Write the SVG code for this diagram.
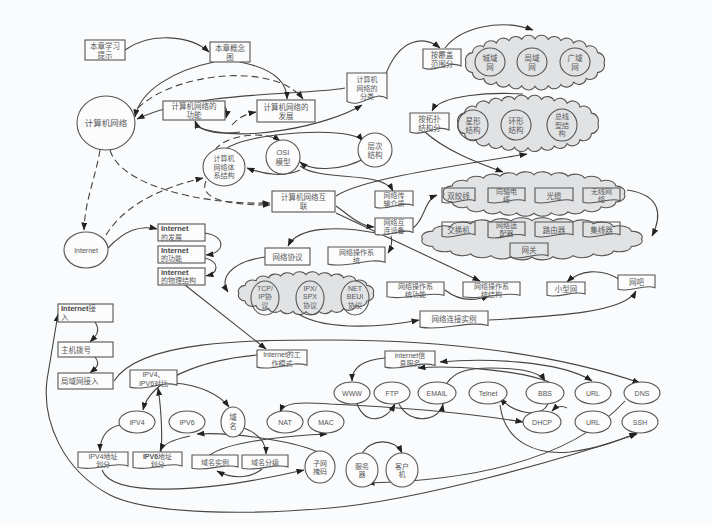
<svg xmlns="http://www.w3.org/2000/svg" width="712" height="527" viewBox="0 0 712 527">
<style>
.n{fill:none;stroke:#555;stroke-width:1.1}
.nf{fill:#fcfcfd;stroke:#555;stroke-width:1.1}
.cl{fill:#e1e2e4;stroke:#555;stroke-width:1.1}
.t{font-family:"Liberation Sans","Noto Sans CJK SC",sans-serif;font-size:7.5px;fill:#5a5a5a;text-anchor:middle}
.s{font-family:"Liberation Sans","Noto Sans CJK SC",sans-serif;font-size:7px;fill:#555;text-anchor:middle}
.b{font-family:"Liberation Sans",sans-serif;font-size:7.5px;font-weight:bold;fill:#444}
.l{text-anchor:start}
.c{fill:none;stroke:#444;stroke-width:1.1;marker-end:url(#a)}
.d{fill:none;stroke:#444;stroke-width:1.1;stroke-dasharray:7 4;marker-end:url(#a)}
.bs{marker-start:url(#as)}
</style>
<defs>
<marker id="a" markerUnits="userSpaceOnUse" markerWidth="8" markerHeight="6" refX="7.5" refY="3" orient="auto"><path d="M0,0 L8,3 L0,6 z" fill="#222"/></marker>
<marker id="as" markerUnits="userSpaceOnUse" markerWidth="8" markerHeight="6" refX="7.5" refY="3" orient="auto-start-reverse"><path d="M0,0 L8,3 L0,6 z" fill="#222"/></marker>
<path id="doc" vector-effect="non-scaling-stroke" d="M0,0 H100 V17 C70,11 35,24 0,19 Z"/>
<path id="cloud" vector-effect="non-scaling-stroke" d="M192,40 A10,10 0 0 1 183.4,53.5 A10,10 0 0 1 168.4,61.4 A10,10 0 0 1 151.4,66.5 A10,10 0 0 1 134.5,69.7 A10,10 0 0 1 117.6,71.4 A10,10 0 0 1 100,72 A10,10 0 0 1 82.4,71.4 A10,10 0 0 1 65.5,69.7 A10,10 0 0 1 48.6,66.5 A10,10 0 0 1 31.6,61.4 A10,10 0 0 1 16.6,53.5 A10,10 0 0 1 8,40 A10,10 0 0 1 16.6,26.5 A10,10 0 0 1 31.6,18.6 A10,10 0 0 1 48.6,13.5 A10,10 0 0 1 65.5,10.3 A10,10 0 0 1 82.4,8.6 A10,10 0 0 1 100,8 A10,10 0 0 1 117.6,8.6 A10,10 0 0 1 134.5,10.3 A10,10 0 0 1 151.4,13.5 A10,10 0 0 1 168.4,18.6 A10,10 0 0 1 183.4,26.5 A10,10 0 0 1 192,40 Z"/>
</defs>
<rect width="712" height="527" fill="#fafbfc"/>

<g id="clouds">
<use href="#cloud" class="cl" transform="translate(460,33) scale(0.75,0.74)"/>
<use href="#cloud" class="cl" transform="translate(452,93) scale(0.76,0.76)"/>
<use href="#cloud" class="cl" transform="translate(436,170) scale(0.98,0.6)"/>
<use href="#cloud" class="cl" transform="translate(413,216) scale(1.19,0.57)"/>
<use href="#cloud" class="cl" transform="translate(233,270) scale(0.73,0.58)"/>
</g>

<g id="connectors">
<path class="c" d="M125,50 C150,32 190,35 209,52"/>
<path class="c" d="M214,62 C175,70 140,90 135,117"/>
<path class="c" d="M345,88 C300,96 200,90 137,119"/>
<path class="c" d="M240,62 C270,68 287,80 287,99"/>
<path class="d" d="M138,108 C175,72 275,62 303,99"/>
<path class="d" d="M232,125 C238,118 245,114 256,112"/>
<path class="c" d="M222,103 C226,106 228,110 226,118"/>
<path class="c" d="M240,132 C225,134 200,134 195,121"/>
<path class="c" d="M195,126 C240,145 330,125 362,105"/>
<path class="d" d="M215,150 C225,135 265,130 280,141"/>
<path class="c" d="M226,149 C245,133 350,125 363,141"/>
<path class="c" d="M365,158 C345,170 312,172 300,162"/>
<path class="c" d="M300,166 C320,182 382,170 393,191"/>
<path class="c" d="M300,170 C285,177 265,175 247,168"/>
<path class="c" d="M336,196 C360,180 440,168 527,154"/>
<path class="c" d="M385,76 C400,36 425,36 440,48"/>
<path class="c" d="M445,48 C460,28 500,18 533,30"/>
<path class="c" d="M523,94 C490,92 440,95 432,111"/>
<path class="c" d="M425,132 C445,150 475,162 503,172"/>
<path class="c" d="M336,206 C350,216 360,226 374,227"/>
<path class="c" d="M413,228 C425,220 424,200 437,195"/>
<path class="c" d="M627,190 C662,195 662,216 652,236"/>
<path class="c" d="M336,213 L480,281"/>
<path class="c" d="M391,236 C393,243 391,248 388,253"/>
<path class="c" d="M376,233 C340,226 298,226 288,246"/>
<path class="c" d="M265,257 C228,262 220,280 228,292"/>
<path class="d" d="M100,150 C95,180 85,200 84,230"/>
<path class="d" d="M110,150 C120,185 200,205 270,203"/>
<path class="d" d="M106,235 C120,212 150,190 203,178"/>
<path class="d" d="M206,181 C200,195 215,205 270,205"/>
<path class="c" d="M108,248 C125,230 140,225 157,229"/>
<path class="c" d="M205,233 C226,236 226,253 206,255"/>
<path class="c" d="M205,258 C220,262 219,273 206,276"/>
<path class="c" d="M185,285 L266,349"/>
<path class="c" d="M300,315 C330,332 390,326 419,320"/>
<path class="c" d="M445,290 C460,302 475,301 489,296"/>
<path class="c" d="M489,320 C560,316 625,312 636,291"/>
<path class="c" d="M619,279 C600,268 580,270 567,282"/>
<path class="c" d="M95,322 C101,331 96,336 90,342"/>
<path class="c" d="M95,357 C101,365 96,368 90,373"/>
<path class="c" d="M114,381 C140,340 250,340 330,340 C450,340 560,355 640,383"/>
<path class="c" d="M257,355 C200,360 150,380 143,410"/>
<path class="c" d="M174,383 C200,385 220,395 229,407"/>
<path class="c" d="M161,452 C163,430 160,400 158,388"/>
<path class="c" d="M190,436 C172,440 163,444 160,451"/>
<path class="c" d="M120,425 C105,428 100,440 100,451"/>
<path class="c" d="M102,470 C112,497 200,494 304,470"/>
<path class="c" d="M318,452 C290,440 230,432 197,434"/>
<path class="c" d="M244,428 C262,435 266,445 266,454"/>
<path class="c" d="M262,469 C250,479 232,479 217,471"/>
<path class="c" d="M210,455 C230,440 300,435 327,434"/>
<path class="c bs" d="M280,412 C284,402 300,402 330,404 C420,408 480,415 523,422"/>
<path class="c" d="M385,358 C360,360 352,370 352,381"/>
<path class="c" d="M357,404 C366,426 386,421 395,404"/>
<path class="c" d="M399,404 C410,426 440,421 443,404"/>
<path class="c" d="M447,383 C455,371 470,368 490,368 C520,368 540,372 545,381"/>
<path class="c bs" d="M592,381 C560,360 480,358 440,362"/>
<path class="c" d="M549,382 C520,370 450,365 418,368"/>
<path class="c" d="M548,404 C540,420 512,412 500,398"/>
<path class="c" d="M567,408 C561,405 556,407 552,411"/>
<path class="c" d="M625,401 C580,450 500,480 367,483"/>
<path class="c" d="M500,405 C505,445 540,455 570,452 C600,448 620,440 637,433"/>
<path class="c bs" d="M637,434 C560,460 420,500 330,508 C250,515 150,515 110,495 C62,470 42,420 47,380 L58,314"/>
<path class="c" d="M362,454 C370,438 395,438 402,453"/>
</g>

<g id="n_tishi"><rect class="nf" x="85" y="40" width="40" height="20"/><text class="t" x="105" y="48.5">本章学习</text><text class="t" x="105" y="57.5">提示</text></g>
<g id="n_gainian"><rect class="nf" x="210" y="42" width="40" height="20"/><text class="t" x="230" y="50.5">本章概念</text><text class="t" x="230" y="59.5">图</text></g>
<g id="n_jsjwl"><ellipse class="nf" cx="106" cy="123" rx="29" ry="27"/><text class="t" x="106" y="126" style="font-size:8.5px">计算机网络</text></g>
<g id="n_gongneng"><rect class="nf" x="163" y="101" width="62" height="19"/><text class="t" x="194" y="109">计算机网络的</text><text class="t" x="194" y="118">功能</text></g>
<g id="n_fazhan"><rect class="nf" x="257" y="100" width="58" height="22"/><text class="t" x="286" y="109.5">计算机网络的</text><text class="t" x="286" y="118.5">发展</text></g>
<g id="n_fenlei"><use href="#doc" class="nf" transform="translate(347,73) scale(0.4,1.5)"/><text class="t" x="367" y="82" style="font-size:7px">计算机</text><text class="t" x="367" y="90.5" style="font-size:7px">网络的</text><text class="t" x="367" y="99" style="font-size:7px">分类</text></g>
<g id="n_fugai"><use href="#doc" class="nf" transform="translate(423,49) scale(0.38,1)"/><text class="t" x="442" y="57.5">按覆盖</text><text class="t" x="442" y="66.5">范围分</text></g>
<g id="n_chengyu"><ellipse class="n" cx="490" cy="62" rx="15" ry="14"/><text class="t" x="490" y="60.5">城域</text><text class="t" x="490" y="69.5">网</text></g>
<g id="n_juyu"><ellipse class="n" cx="532" cy="62" rx="15" ry="14"/><text class="t" x="532" y="60.5">局域</text><text class="t" x="532" y="69.5">网</text></g>
<g id="n_guangyu"><ellipse class="n" cx="575" cy="62" rx="15" ry="14"/><text class="t" x="575" y="60.5">广域</text><text class="t" x="575" y="69.5">网</text></g>
<g id="n_tuopu"><use href="#doc" class="nf" transform="translate(410,113) scale(0.39,1)"/><text class="t" x="429.5" y="121.5">按拓扑</text><text class="t" x="429.5" y="130.5">结构分</text></g>
<g id="n_xing"><ellipse class="n" cx="473" cy="125" rx="15" ry="15"/><text class="t" x="473" y="123.5">星形</text><text class="t" x="473" y="132.5">结构</text></g>
<g id="n_huan"><ellipse class="n" cx="516" cy="125" rx="15" ry="15"/><text class="t" x="516" y="123.5">环形</text><text class="t" x="516" y="132.5">结构</text></g>
<g id="n_zongxian"><ellipse class="n" cx="562" cy="125" rx="15" ry="16"/><text class="t" x="562" y="119" style="font-size:7px">总线</text><text class="t" x="562" y="127.5" style="font-size:7px">型结</text><text class="t" x="562" y="136" style="font-size:7px">构</text></g>
<g id="n_tixi"><ellipse class="nf" cx="224" cy="167" rx="21" ry="19"/><text class="t" x="224" y="161" style="font-size:7px">计算机</text><text class="t" x="224" y="169.5" style="font-size:7px">网络体</text><text class="t" x="224" y="178" style="font-size:7px">系结构</text></g>
<g id="n_osi"><ellipse class="nf" cx="283" cy="157" rx="17" ry="17"/><text class="s" x="283" y="155" style="font-size:7.5px">OSI</text><text class="t" x="283" y="164.5">模型</text></g>
<g id="n_cengci"><ellipse class="nf" cx="375" cy="150" rx="17" ry="17"/><text class="t" x="375" y="148.5">层次</text><text class="t" x="375" y="157.5">结构</text></g>
<g id="n_hulian"><rect class="nf" x="272" y="191" width="63" height="21"/><text class="t" x="303.5" y="200">计算机网络互</text><text class="t" x="303.5" y="209">联</text></g>
<g id="n_jiezhi"><use href="#doc" class="nf" transform="translate(375,191) scale(0.38,0.85)"/><text class="t" x="394" y="198" style="font-size:7px">网络传</text><text class="t" x="394" y="206" style="font-size:7px">输介质</text></g>
<g id="n_shebei"><use href="#doc" class="nf" transform="translate(375,218) scale(0.38,0.85)"/><text class="t" x="394" y="225" style="font-size:7px">网络互</text><text class="t" x="394" y="233" style="font-size:7px">连设备</text></g>
<g id="n_shuangjiao"><use href="#doc" class="n" transform="translate(442,188) scale(0.33,0.75)"/><text class="t" x="458.5" y="198.5">双绞线</text></g>
<g id="n_tongzhou"><use href="#doc" class="n" transform="translate(488,188) scale(0.37,0.75)"/><text class="t" x="506.5" y="194" style="font-size:7px">同轴电</text><text class="t" x="506.5" y="202" style="font-size:7px">缆</text></g>
<g id="n_guanglan"><use href="#doc" class="n" transform="translate(535,188) scale(0.38,0.75)"/><text class="t" x="554" y="198.5">光缆</text></g>
<g id="n_wuxian"><use href="#doc" class="n" transform="translate(583,188) scale(0.37,0.75)"/><text class="t" x="601.5" y="194" style="font-size:7px">无线网</text><text class="t" x="601.5" y="202" style="font-size:7px">络</text></g>
<g id="n_jiaohuan"><use href="#doc" class="n" transform="translate(442,222) scale(0.33,0.75)"/><text class="t" x="458.5" y="232.5">交换机</text></g>
<g id="n_shipei"><use href="#doc" class="n" transform="translate(488,222) scale(0.37,0.8)"/><text class="t" x="506.5" y="228" style="font-size:7px">网络适</text><text class="t" x="506.5" y="236" style="font-size:7px">配器</text></g>
<g id="n_luyou"><use href="#doc" class="n" transform="translate(535,222) scale(0.38,0.75)"/><text class="t" x="554" y="232.5">路由器</text></g>
<g id="n_jixian"><use href="#doc" class="n" transform="translate(583,222) scale(0.37,0.75)"/><text class="t" x="601.5" y="232.5">集线器</text></g>
<g id="n_wangguan"><use href="#doc" class="n" transform="translate(510,243) scale(0.38,0.75)"/><text class="t" x="529" y="253">网关</text></g>
<g id="n_internet"><ellipse class="nf" cx="86" cy="250" rx="22" ry="18"/><text class="s" x="86" y="253">Internet</text></g>
<g id="n_inet_fz"><rect class="nf" x="158" y="224" width="47" height="17"/><text class="b" x="161" y="231">Internet</text><text class="t l" x="161" y="239.5" style="font-size:7px">的发展</text></g>
<g id="n_inet_gn"><rect class="nf" x="158" y="246" width="47" height="17"/><text class="b" x="161" y="252.5">Internet</text><text class="t l" x="161" y="261" style="font-size:7px">的功能</text></g>
<g id="n_inet_wl"><rect class="nf" x="158" y="268" width="47" height="17"/><text class="b" x="161" y="274.5">internet</text><text class="t l" x="161" y="283" style="font-size:7px">的物理结构</text></g>
<g id="n_xieyi"><rect class="nf" x="265" y="248" width="45" height="17"/><text class="t" x="287.5" y="259.5">网络协议</text></g>
<g id="n_nos"><use href="#doc" class="nf" transform="translate(328,247) scale(0.57,0.9)"/><text class="t" x="356.5" y="254.5" style="font-size:7px">网络操作系</text><text class="t" x="356.5" y="262.5" style="font-size:7px">统</text></g>
<g id="n_tcpip"><ellipse class="n" cx="265" cy="298" rx="14" ry="17"/><text class="s" x="265" y="290.5">TCP/</text><text class="s" x="265" y="299">IP协</text><text class="t" x="265" y="307.5" style="font-size:7px">议</text></g>
<g id="n_ipx"><ellipse class="n" cx="310" cy="298" rx="14" ry="17"/><text class="s" x="310" y="290.5">IPX/</text><text class="s" x="310" y="299">SPX</text><text class="t" x="310" y="307.5" style="font-size:7px">协议</text></g>
<g id="n_netbeui"><ellipse class="n" cx="355" cy="298" rx="14" ry="17"/><text class="s" x="355" y="290.5">NET</text><text class="s" x="355" y="299">BEUI</text><text class="t" x="355" y="307.5" style="font-size:7px">协议</text></g>
<g id="n_nos_gn"><use href="#doc" class="nf" transform="translate(387,282) scale(0.57,0.78)"/><text class="t" x="415.5" y="288.5" style="font-size:7px">网络操作系</text><text class="t" x="415.5" y="296.5" style="font-size:7px">统功能</text></g>
<g id="n_nos_jg"><use href="#doc" class="nf" transform="translate(463,282) scale(0.57,0.78)"/><text class="t" x="491.5" y="288.5" style="font-size:7px">网络操作系</text><text class="t" x="491.5" y="296.5" style="font-size:7px">统结构</text></g>
<g id="n_shili"><use href="#doc" class="nf" transform="translate(420,311) scale(0.68,0.85)"/><text class="t" x="454" y="322">网络连接实例</text></g>
<g id="n_xiaoxing"><use href="#doc" class="nf" transform="translate(547,282) scale(0.38,0.7)"/><text class="t" x="566" y="291.5">小型网</text></g>
<g id="n_wangba"><use href="#doc" class="nf" transform="translate(618,275) scale(0.37,0.75)"/><text class="t" x="636.5" y="285">网吧</text></g>
<g id="n_jieru"><rect class="nf" x="58" y="304" width="55" height="18"/><text class="b" x="61" y="311">Internet<tspan style="font-weight:normal;font-family:'Liberation Sans','Noto Sans CJK SC',sans-serif;fill:#5a5a5a">接</tspan></text><text class="t l" x="61" y="320">入</text></g>
<g id="n_boh"><rect class="nf" x="58" y="342" width="55" height="15"/><text class="t l" x="61" y="352.5">主机拨号</text></g>
<g id="n_lan"><rect class="nf" x="58" y="373" width="55" height="16"/><text class="t l" x="61" y="384">局域网接入</text></g>
<g id="n_duibi"><use href="#doc" class="nf" transform="translate(130,370) scale(0.47,0.9)"/><text class="s" x="153.5" y="377">IPV4、</text><text class="s" x="153.5" y="385.5">IPV6对比</text></g>
<g id="n_moshi"><use href="#doc" class="nf" transform="translate(257,350) scale(0.5,0.9)"/><text class="s" x="282" y="357">Internet的工</text><text class="t" x="282" y="365.5" style="font-size:7px">作模式</text></g>
<g id="n_xinxi"><use href="#doc" class="nf" transform="translate(385,351) scale(0.5,0.85)"/><text class="s" x="410" y="357.5">internet信</text><text class="t" x="410" y="366" style="font-size:7px">息服务</text></g>
<g id="n_www"><ellipse class="nf" cx="352" cy="393" rx="18" ry="11"/><text class="s" x="352" y="395.5">WWW</text></g>
<g id="n_ftp"><ellipse class="nf" cx="392" cy="393" rx="18" ry="11"/><text class="s" x="392" y="395.5">FTP</text></g>
<g id="n_email"><ellipse class="nf" cx="437" cy="393" rx="19" ry="11"/><text class="s" x="437" y="395.5">EMAIL</text></g>
<g id="n_telnet"><ellipse class="nf" cx="488" cy="393" rx="19" ry="11"/><text class="s" x="488" y="395.5">Telnet</text></g>
<g id="n_bbs"><ellipse class="nf" cx="545" cy="393" rx="19" ry="11"/><text class="s" x="545" y="395.5">BBS</text></g>
<g id="n_url1"><ellipse class="nf" cx="593" cy="393" rx="18" ry="11"/><text class="s" x="593" y="395.5">URL</text></g>
<g id="n_dns"><ellipse class="nf" cx="642" cy="393" rx="18" ry="11"/><text class="s" x="642" y="395.5">DNS</text></g>
<g id="n_ipv4"><ellipse class="nf" cx="137" cy="422" rx="18" ry="11"/><text class="s" x="137" y="424.5">IPV4</text></g>
<g id="n_ipv6"><ellipse class="nf" cx="187" cy="422" rx="18" ry="11"/><text class="s" x="187" y="424.5">IPV6</text></g>
<g id="n_yuming"><ellipse class="nf" cx="233" cy="422" rx="12" ry="15"/><text class="t" x="233" y="420">域</text><text class="t" x="233" y="429">名</text></g>
<g id="n_nat"><ellipse class="nf" cx="285" cy="422" rx="18" ry="11"/><text class="s" x="285" y="424.5">NAT</text></g>
<g id="n_mac"><ellipse class="nf" cx="326" cy="422" rx="18" ry="11"/><text class="s" x="326" y="424.5">MAC</text></g>
<g id="n_dhcp"><ellipse class="nf" cx="542" cy="422" rx="19" ry="11"/><text class="s" x="542" y="424.5">DHCP</text></g>
<g id="n_url2"><ellipse class="nf" cx="593" cy="422" rx="18" ry="11"/><text class="s" x="593" y="424.5">URL</text></g>
<g id="n_ssh"><ellipse class="nf" cx="640" cy="422" rx="18" ry="11"/><text class="s" x="640" y="424.5">SSH</text></g>
<g id="n_v4hf"><use href="#doc" class="nf" transform="translate(78,452) scale(0.5,0.82)"/><text class="s" x="103" y="458.5">IPV4地址</text><text class="t" x="103" y="467" style="font-size:7px">划分</text></g>
<g id="n_v6hf"><use href="#doc" class="nf" transform="translate(133,452) scale(0.49,0.82)"/><text class="s" x="157.5" y="458.5"><tspan style="font-weight:bold">IPV6</tspan>地址</text><text class="t" x="157.5" y="467" style="font-size:7px">划分</text></g>
<g id="n_ymsl"><use href="#doc" class="nf" transform="translate(192,455) scale(0.46,0.7)"/><text class="t" x="215" y="464.5" style="font-size:7px">域名实例</text></g>
<g id="n_ymfj"><use href="#doc" class="nf" transform="translate(242,455) scale(0.46,0.7)"/><text class="t" x="265" y="464.5" style="font-size:7px">域名分级</text></g>
<g id="n_ziwang"><ellipse class="nf" cx="320" cy="467" rx="15" ry="16"/><text class="t" x="320" y="465.5" style="font-size:7px">子网</text><text class="t" x="320" y="474" style="font-size:7px">掩码</text></g>
<g id="n_fuwuqi"><ellipse class="nf" cx="362" cy="470" rx="16" ry="17"/><text class="t" x="362" y="468.5" style="font-size:7px">服务</text><text class="t" x="362" y="477" style="font-size:7px">器</text></g>
<g id="n_kehuji"><ellipse class="nf" cx="402" cy="470" rx="16" ry="17"/><text class="t" x="402" y="468.5" style="font-size:7px">客户</text><text class="t" x="402" y="477" style="font-size:7px">机</text></g>
</svg>
